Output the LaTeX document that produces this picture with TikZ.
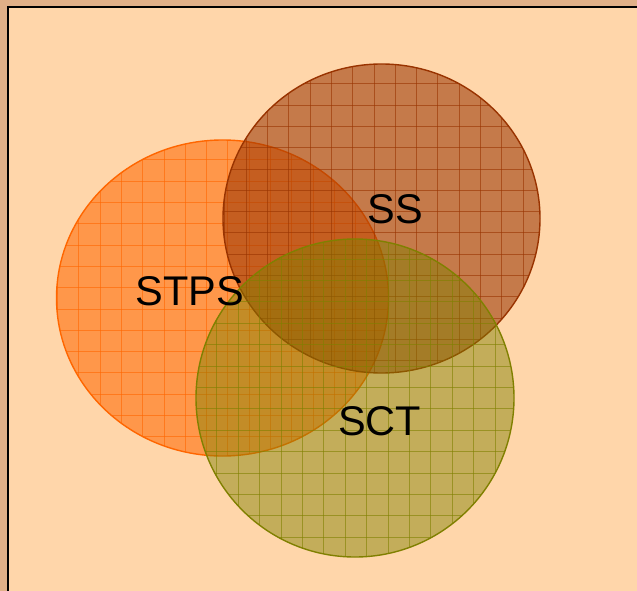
\documentclass[tikz,border=0pt]{standalone}
\usepackage{fontspec}
\setmainfont{Liberation Sans}
\definecolor{outertan}{RGB}{224,176,136}
\definecolor{peach}{RGB}{255,214,170}
\definecolor{cstps}{RGB}{255,102,0}
\definecolor{css}{RGB}{153,51,0}
\definecolor{csct}{RGB}{128,128,0}
\tikzset{
  setfill/.style={fill=#1, fill opacity=0.56},
  setgrid/.style={draw=#1, line width=0.7pt, draw opacity=0.6},
  setedge/.style={draw=#1, line width=1.4pt},
  setlabel/.style={font=\fontsize{41.5}{49}\selectfont, text=black, inner sep=0pt}
}
\begin{document}
\begin{tikzpicture}[x=1pt,y=-1pt]
\useasboundingbox (0,0) rectangle (637,591);
\fill[outertan] (0,0) rectangle (637,591);
\fill[peach] (8,7) rectangle (637,591);
\draw[black, line width=2pt] (8,591) -- (8,7) -- (637,7);

% STPS
\fill[setfill=cstps] (222.5,298) ellipse [x radius=166, y radius=158];
\begin{scope}
  \clip (222.5,298) ellipse [x radius=166, y radius=158];
  \foreach \i in {-4,...,16} {
    \draw[setgrid=cstps] ({14.8+\i*21.3},120) -- ({14.8+\i*21.3},470);
    \draw[setgrid=cstps] (40,{117.2+\i*21.3}) -- (410,{117.2+\i*21.3});
  }
\end{scope}
\draw[setedge=cstps] (222.5,298) ellipse [x radius=166, y radius=158];

% SS
\fill[setfill=css] (381.5,218.5) ellipse [x radius=158.5, y radius=154.5];
\begin{scope}
  \clip (381.5,218.5) ellipse [x radius=158.5, y radius=154.5];
  \foreach \i in {-6,...,16} {
    \draw[setgrid=css] ({310+\i*21.3},50) -- ({310+\i*21.3},390);
    \draw[setgrid=css] (210,{105+\i*21.3}) -- (560,{105+\i*21.3});
  }
\end{scope}
\draw[setedge=css] (381.5,218.5) ellipse [x radius=158.5, y radius=154.5];

% SCT
\fill[csct, fill opacity=0.47] (355,398) circle [radius=159];
\begin{scope}
  \clip (355,398) circle [radius=159];
  \foreach \i in {-8,...,16} {
    \draw[setgrid=csct] ({216.7+\i*21.4},230) -- ({216.7+\i*21.4},570);
    \draw[setgrid=csct] (180,{366+\i*21.4}) -- (530,{366+\i*21.4});
  }
\end{scope}
\draw[setedge=csct] (355,398) circle [radius=159];

% labels
\node[setlabel] (stps) at (190,291.5) {STPS};
\node[setlabel] (ss) at (395,209.5) {SS};
\node[setlabel] (sct) at (379.5,421.5) {SCT};
\end{tikzpicture}
\end{document}
